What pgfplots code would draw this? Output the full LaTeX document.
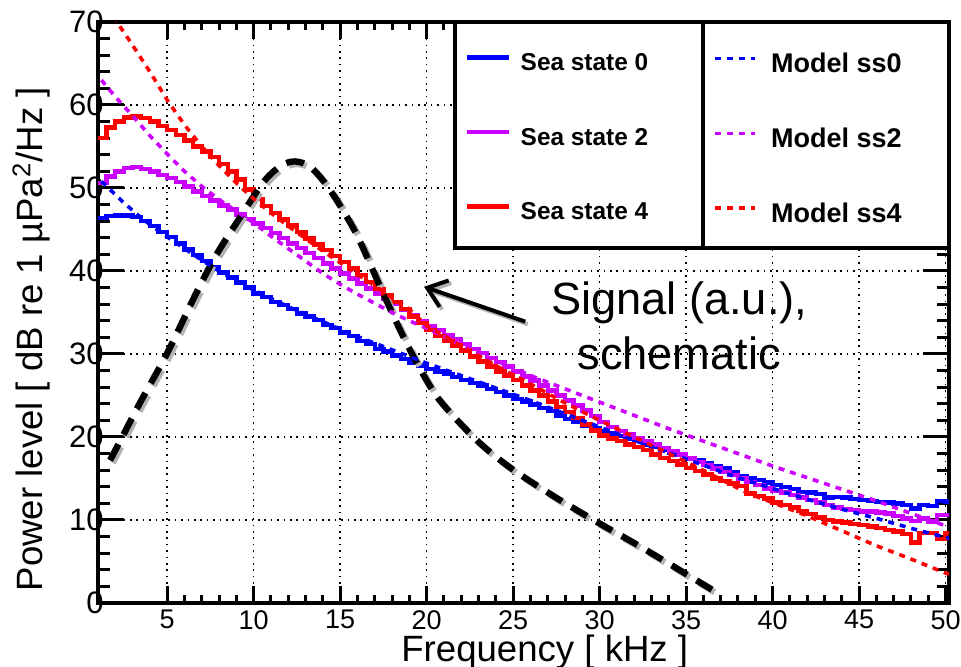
\documentclass[border=0pt]{standalone}
\usepackage{fontspec}
\setmainfont{Liberation Sans}
\usepackage{pgfplots}
\pgfplotsset{compat=1.18}
\usepackage{pgfplotstable}
\usetikzlibrary{arrows.meta}

\definecolor{ssblue}{RGB}{0,0,255}
\definecolor{sspurple}{RGB}{204,0,255}
\definecolor{ssred}{RGB}{255,0,0}

% measured spectra, 0.5 kHz bins (left edge)
\pgfplotstableread{
x s0 s2 s4
1.0 46.4 50.6 56.0
1.5 46.6 51.4 57.3
2.0 46.7 52.0 58.0
2.5 46.7 52.4 58.5
3.0 46.5 52.5 58.6
3.5 46.0 52.3 58.4
4.0 45.4 52.0 58.0
4.5 44.7 51.6 57.5
5.0 44.1 51.2 57.0
5.5 43.3 50.7 56.4
6.0 42.6 50.2 55.7
6.5 41.9 49.6 55.0
7.0 41.2 49.0 54.4
7.5 40.5 48.5 53.7
8.0 39.8 47.9 52.9
8.5 39.2 47.4 52.0
9.0 38.6 46.8 51.0
9.5 38.0 46.3 49.8
10.0 37.3 45.7 48.7
10.5 36.9 45.2 47.8
11.0 36.3 44.6 47.0
11.5 35.9 44.0 46.2
12.0 35.4 43.3 45.5
12.5 34.9 42.8 44.7
13.0 34.5 42.2 43.9
13.5 34.1 41.6 43.2
14.0 33.5 40.9 42.5
14.5 33.1 40.3 41.8
15.0 32.6 39.7 41.1
15.5 32.2 39.1 40.3
16.0 31.6 38.5 39.5
16.5 31.2 37.9 38.7
17.0 30.6 37.3 37.8
17.5 30.3 36.7 37.1
18.0 29.8 36.0 36.3
18.5 29.4 35.3 35.4
19.0 28.9 34.7 34.5
19.5 28.6 34.0 33.7
20.0 28.2 33.4 32.9
20.5 27.9 32.9 32.2
21.0 27.6 32.3 31.6
21.5 27.2 31.8 31.0
22.0 26.9 31.2 30.4
22.5 26.5 30.6 29.7
23.0 26.2 30.1 29.1
23.5 25.8 29.5 28.5
24.0 25.4 29.0 27.9
24.5 25.0 28.5 27.4
25.0 24.6 27.9 26.9
25.5 24.3 27.3 26.2
26.0 23.9 26.8 25.6
26.5 23.5 26.2 25.0
27.0 23.1 25.6 24.3
27.5 22.6 25.0 23.6
28.0 22.2 24.4 23.0
28.5 21.8 23.8 22.3
29.0 21.4 23.2 21.5
29.5 21.0 22.5 20.8
30.0 20.7 21.8 20.2
30.5 20.4 21.2 19.8
31.0 20.1 20.7 19.5
31.5 19.8 20.3 19.1
32.0 19.5 19.9 18.8
32.5 19.1 19.5 18.4
33.0 18.8 19.1 17.9
33.5 18.5 18.7 17.5
34.0 18.1 18.3 17.1
34.5 17.8 17.9 16.7
35.0 17.5 17.4 16.3
35.5 17.2 17.0 15.9
36.0 16.8 16.6 15.5
36.5 16.5 16.2 15.0
37.0 16.2 15.8 14.7
37.5 15.8 15.4 14.4
38.0 15.3 15.0 14.1
38.5 15.0 14.6 13.2
39.0 14.8 14.2 12.9
39.5 14.5 13.8 12.6
40.0 14.2 13.5 12.1
40.5 14.0 13.3 11.8
41.0 13.7 13.0 11.5
41.5 13.4 12.7 11.1
42.0 13.3 12.4 10.7
42.5 13.1 12.1 10.3
43.0 12.7 11.8 10.0
43.5 12.8 11.5 9.8
44.0 12.7 11.3 9.7
44.5 12.5 11.2 9.5
45.0 12.4 11.0 9.4
45.5 12.3 11.0 9.2
46.0 12.2 10.9 9.0
46.5 12.1 10.8 8.8
47.0 12.0 10.5 8.6
47.5 11.8 10.2 8.3
48.0 11.4 9.9 7.3
48.5 11.8 10.2 8.4
49.0 11.7 9.8 8.4
49.5 12.3 10.6 7.7
50.0 12.2 10.6 8.4
50.5 12.2 10.6 8.4
}\hist

\pgfplotsset{
  frame/.style={
    scale only axis, width=425.5pt, height=290.5pt,
    xmin=1, xmax=50.2, ymin=0, ymax=70,
    axis line style={line width=2pt},
    tick style={line width=1.5pt, black},
    tick align=inside, tick pos=both,
    /pgf/number format/assume math mode=true,
    grid style={black, line width=0.7pt, dash pattern=on 0.8pt off 2.4pt},
  },
}

\begin{document}
\begin{tikzpicture}
\useasboundingbox (-49pt,-32pt) rectangle (431.5pt,301.5pt);

% y ticks and horizontal grid
\begin{axis}[frame,
  xtick=\empty,
  ytick={0,10,...,70}, minor y tick num=4, ymajorgrids,
  major tick length=13pt, minor tick length=6pt,
  yticklabel style={font=\fontsize{15.5}{18}\selectfont, inner sep=0pt, xshift=3pt},
  ylabel={Power level [ dB re 1 µPa\textsuperscript{2}/Hz ]},
  ylabel style={font=\fontsize{18.3}{22}\selectfont, at={(axis description cs:-0.0647,0.454)}, anchor=base},
]
\end{axis}

% x ticks, vertical grid, measured spectra, signal
\begin{axis}[frame,
  ytick=\empty,
  xtick={5,10,...,50}, minor x tick num=4, xmajorgrids,
  major tick length=8.5pt, minor tick length=4pt,
  xticklabel style={font=\fontsize{13.5}{16}\selectfont, inner sep=0pt, yshift=-3.5pt},
  xlabel={Frequency [ kHz ]},
  xlabel style={font=\fontsize{18.3}{22}\selectfont, at={(axis description cs:0.525,0)}, anchor=base, yshift=-29pt},
  legend cell align=left,
  legend style={draw=none, fill=none, at={(axis description cs:0.430,0.948)}, anchor=north west,
    inner sep=0pt, font=\bfseries\fontsize{12.2}{14}\selectfont,
    row sep=28.25pt, column sep=5pt,
    nodes={inner sep=0pt, text height=9pt, text depth=0pt}},
  legend image code/.code={\draw[#1, line width=2.2pt] (0pt,2pt) -- (21pt,2pt);},
]
\addplot[ssblue, line width=2.2pt, const plot] table[x=x, y=s0] {\hist};
\addlegendentry{Sea state 0}
\addplot[sspurple, line width=2.2pt, const plot] table[x=x, y=s2] {\hist};
\addlegendentry{Sea state 2}
\addplot[ssred, line width=2.2pt, const plot] table[x=x, y=s4] {\hist};
\addlegendentry{Sea state 4}

% schematic signal with a soft shadow
\addplot[forget plot, black!30, line width=3.2pt, smooth, tension=0.5, dash pattern=on 9pt off 5.5pt, shift={(1.3pt,-1.3pt)}] coordinates {
(1.7,17.2)(2.4,20.0)(3.5,24.4)(5,30.1)(6.6,37.0)(7.8,41.8)(9.1,46.1)(10.6,50.8)(11.6,52.7)(12.4,53.2)(13.3,52.5)(14.4,49.8)(15.9,44.6)(17.4,37.7)(18.6,32.3)(19.7,27.9)(20.8,24.3)(22.9,19.6)(24.9,16.2)(27.4,12.8)(29.9,9.7)(32.1,7.1)(34.2,4.5)(36.5,1.6)};
\addplot[forget plot, black, line width=3.2pt, smooth, tension=0.5, dash pattern=on 9pt off 5.5pt] coordinates {
(1.7,17.2)(2.4,20.0)(3.5,24.4)(5,30.1)(6.6,37.0)(7.8,41.8)(9.1,46.1)(10.6,50.8)(11.6,52.7)(12.4,53.2)(13.3,52.5)(14.4,49.8)(15.9,44.6)(17.4,37.7)(18.6,32.3)(19.7,27.9)(20.8,24.3)(22.9,19.6)(24.9,16.2)(27.4,12.8)(29.9,9.7)(32.1,7.1)(34.2,4.5)(36.5,1.6)};

\draw[black!30, line width=2pt, -{Straight Barb[length=9pt,width=14pt,line width=2pt]}, shift={(1.3pt,-1.3pt)}] (axis cs:25.7,33.9) -- (axis cs:19.85,38.1);
\draw[black, line width=2pt, -{Straight Barb[length=9pt,width=14pt,line width=2pt]}] (axis cs:25.7,33.9) -- (axis cs:19.85,38.1);
\node[anchor=base, font=\fontsize{22.6}{27}\selectfont, inner sep=0pt] at (axis cs:34.6,34.7) {Signal (a.u.),};
\node[anchor=base, font=\fontsize{22.6}{27}\selectfont, inner sep=0pt] at (axis cs:34.6,28.1) {schematic};

% legend frames
\filldraw[fill=white, draw=black, line width=2pt] (rel axis cs:0.4195,0.611) rectangle (rel axis cs:1,1);
\draw[black, line width=2pt] (rel axis cs:0.711,0.611) -- (rel axis cs:0.711,1);
\end{axis}

% model curves
\begin{axis}[frame, hide axis,
  legend cell align=left,
  legend style={draw=none, fill=none, at={(axis description cs:0.7227,0.9466)}, anchor=north west,
    inner sep=0pt, font=\bfseries\fontsize{13.5}{16}\selectfont,
    row sep=27.7pt, column sep=7pt,
    nodes={inner sep=0pt, text height=9.7pt, text depth=0pt}},
  legend image code/.code={\draw[#1, line width=1.8pt] (0pt,2.3pt) -- (20pt,2.3pt);},
]
\addplot[ssblue, line width=1.8pt, dash pattern=on 3pt off 3pt] coordinates {
(1.2,50.8)(1.6,50.0)(2,49.2)(2.5,48.2)(3,47.3)(3.5,46.4)(4,45.6)(5,44.1)(6,42.7)(7,41.3)(8,40.0)(9,38.8)(10,37.7)(11,36.7)(12,35.7)(13,34.8)(14,33.9)(15,33.0)(16,32.1)(17,31.3)(18,30.5)(19,29.7)(20,28.9)(22,27.4)(24,25.9)(26,24.4)(28,22.8)(30,21.2)(32,19.6)(34,18.1)(36,16.6)(38,15.1)(40,13.8)(42,12.5)(44,11.3)(46,10.2)(48,9.0)(50,7.9)(50.2,7.8)};
\addlegendentry{Model ss0}
\addplot[sspurple, line width=1.8pt, dash pattern=on 3pt off 3pt] coordinates {
(1.2,63.0)(2,61.0)(3,58.7)(4,56.3)(5,54.1)(6,52.0)(7,50.2)(8,48.6)(9,47.2)(10,45.8)(11,44.2)(12,42.7)(13,41.2)(14,39.7)(15,38.4)(16,37.2)(17,36.1)(18,35.0)(19,34.0)(20,33.1)(22,31.1)(24,29.2)(26,27.4)(28,25.8)(30,24.2)(32,22.6)(34,21.0)(36,19.5)(38,18.0)(40,16.5)(42,15.1)(44,13.7)(46,12.3)(48,10.8)(50,9.3)(50.2,9.2)};
\addlegendentry{Model ss2}
\addplot[ssred, line width=1.8pt, dash pattern=on 3pt off 3pt] coordinates {
(1.5,73.5)(2.1,70.0)(3,67.2)(4,64.0)(5,60.6)(6,57.6)(7,55.0)(8,52.7)(9,50.6)(10,48.7)(11,47.0)(12,45.4)(13,43.9)(14,42.4)(15,41.0)(16,39.6)(17,38.2)(18,36.8)(19,35.4)(20,33.4)(22,31.0)(24,28.6)(26,26.4)(28,24.1)(30,22.0)(32,20.0)(34,18.0)(35.1,16.9)(37,14.9)(38.6,13.2)(40,12.1)(42,10.5)(44,8.7)(46,6.9)(48,5.3)(50,3.6)(50.2,3.5)};
\addlegendentry{Model ss4}
\end{axis}
\end{tikzpicture}
\end{document}
